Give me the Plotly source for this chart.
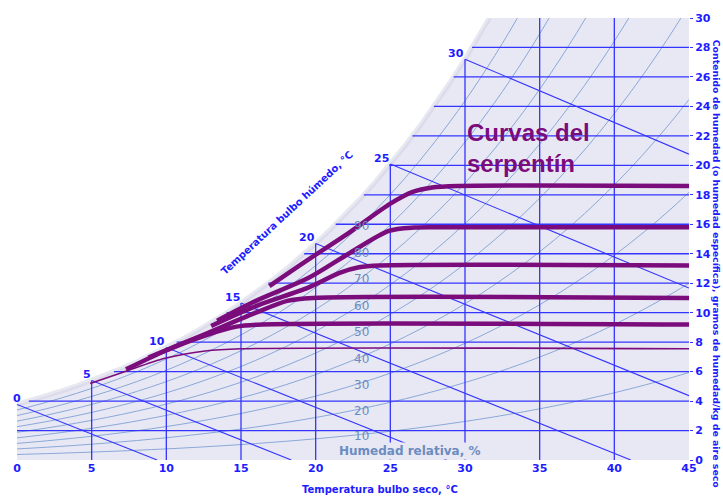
import numpy as np
import plotly.graph_objects as go

# Saturation vapour pressure of water (kPa), 0..45 °C in 1 °C steps
temp_table = list(range(0, 46))
psat_kpa = [0.6112, 0.6571, 0.7060, 0.7581, 0.8135, 0.8725, 0.9353, 1.0020, 1.0729, 1.1481,
            1.2280, 1.3127, 1.4026, 1.4979, 1.5987, 1.7055, 1.8185, 1.9380, 2.0643, 2.1979,
            2.3389, 2.4878, 2.6448, 2.8105, 2.9852, 3.1693, 3.3633, 3.5674, 3.7823, 4.0084,
            4.2462, 4.4961, 4.7586, 5.0343, 5.3237, 5.6275, 5.9461, 6.2801, 6.6303, 6.9972,
            7.3814, 7.7836, 8.2045, 8.6449, 9.1055, 9.5870]
P_ATM = 101.325  # kPa

rh_levels = [10, 20, 30, 40, 50, 60, 70, 80, 90]
wet_bulb_temps = [0, 5, 10, 15, 20, 25, 30]
dry_bulb_lines = [5, 10, 15, 20, 25, 30, 35, 40]
humidity_lines = [2, 4, 6, 8, 10, 12, 14, 16, 18, 20, 22, 24, 26, 28]
x_ticks = [0, 5, 10, 15, 20, 25, 30, 35, 40, 45]
y_ticks = [0, 2, 4, 6, 8, 10, 12, 14, 16, 18, 20, 22, 24, 26, 28, 30]

# Coil curves: dry bulb (°C) and moisture content (g/kg)
coil_1_t = [16.9, 19.5, 22.2, 25.0, 26.5, 27.8, 29.5, 45.0]
coil_1_w = [11.8, 13.6, 15.4, 17.4, 18.2, 18.5, 18.6, 18.6]
coil_2_t = [13.4, 16.0, 19.5, 22.2, 24.9, 26.6, 28.3, 45.0]
coil_2_w = [9.45, 10.8, 12.35, 14.0, 15.55, 15.78, 15.8, 15.8]
coil_3_t = [13.0, 16.0, 19.5, 21.6, 22.9, 24.3, 45.0]
coil_3_w = [9.1, 10.45, 11.7, 12.7, 13.08, 13.2, 13.2]
coil_4_t = [8.8, 12.6, 16.0, 18.1, 19.8, 45.0]
coil_4_w = [6.95, 8.55, 10.0, 10.8, 11.0, 11.0]
coil_5_t = [7.3, 9.9, 12.6, 14.7, 16.4, 45.0]
coil_5_w = [6.15, 7.4, 8.45, 9.05, 9.2, 9.2]
coil_6_t = [4.9, 7.1, 9.9, 12.6, 15.0, 45.0]
coil_6_w = [5.2, 5.95, 6.9, 7.4, 7.55, 7.55]

BLUE = "#3434ff"
LABEL_BLUE = "#1c1cff"
RH_BLUE = "#8aa8d8"
RH_TEXT = "#6a8cc0"
LAVENDER = "#e8e8f4"
PURPLE = "#7b0c7b"
W_MAX = 30

T = np.array(temp_table, dtype=float)
ps = np.array(psat_kpa)


def moisture(phi):
    """Humidity ratio in g/kg for relative humidity phi (0..1) along the table."""
    return 1000 * 0.622 * phi * ps / (P_ATM - phi * ps)


ws = moisture(1.0)

fig = go.Figure()

# Area under the saturation curve
t_top = float(np.interp(W_MAX, ws, T))
mask = ws < W_MAX
fill_t = list(T[mask]) + [t_top, 45, 45, 0]
fill_w = list(ws[mask]) + [W_MAX, W_MAX, 0, 0]
fig.add_trace(go.Scatter(x=fill_t, y=fill_w, mode="lines", fill="toself",
                         fillcolor=LAVENDER, line=dict(width=0), hoverinfo="skip"))
fig.add_trace(go.Scatter(x=list(T[mask]) + [t_top], y=list(ws[mask]) + [W_MAX], mode="lines",
                         line=dict(color="rgba(205,205,225,0.45)", width=5), hoverinfo="skip"))

# Relative humidity curves
for rh in rh_levels:
    fig.add_trace(go.Scatter(x=T, y=moisture(rh / 100), mode="lines", line_shape="spline",
                             line=dict(color=RH_BLUE, width=1), hoverinfo="skip"))

# Constant moisture lines from the saturation curve to the right edge
for w in humidity_lines:
    t_dew = float(np.interp(w, ws, T))
    fig.add_trace(go.Scatter(x=[t_dew, 45], y=[w, w], mode="lines",
                             line=dict(color=BLUE, width=1.3), hoverinfo="skip"))

# Dry bulb lines
for t in dry_bulb_lines:
    fig.add_trace(go.Scatter(x=[t, t], y=[0, min(ws[t], W_MAX)], mode="lines",
                             line=dict(color=BLUE, width=1.3), hoverinfo="skip"))

# Wet bulb lines
for twb in wet_bulb_temps:
    a = (2501 - 2.326 * twb) * ws[twb] / 1000

    def w_at(t):
        return 1000 * (a - 1.006 * (t - twb)) / (2501 + 1.86 * t - 4.186 * twb)

    t_end = 45.0 if w_at(45.0) > 0 else twb + a / 1.006
    fig.add_trace(go.Scatter(x=[twb, t_end], y=[ws[twb], max(w_at(t_end), 0)], mode="lines",
                             line=dict(color=BLUE, width=1.1), hoverinfo="skip"))

# Coil curves
coils = [(coil_1_t, coil_1_w, 4.5), (coil_2_t, coil_2_w, 4.5), (coil_3_t, coil_3_w, 4.5),
         (coil_4_t, coil_4_w, 4.5), (coil_5_t, coil_5_w, 4.5), (coil_6_t, coil_6_w, 1.6)]
for ct, cw, lw in coils:
    fig.add_trace(go.Scatter(x=ct, y=cw, mode="lines", line_shape="spline",
                             line=dict(color=PURPLE, width=lw, smoothing=0.8), hoverinfo="skip"))

annotations = []
bold_blue = dict(family="DejaVu Sans", size=11, color=LABEL_BLUE, weight="bold")

for twb in wet_bulb_temps:
    annotations.append(dict(x=twb, y=min(ws[twb], W_MAX), text=str(twb), showarrow=False,
                            xanchor="right", yanchor="middle", xshift=1 if twb else 6,
                            yshift=6, font=bold_blue))

rh_label_t = 23.1
for rh in rh_levels:
    annotations.append(dict(x=rh_label_t, y=float(np.interp(rh_label_t, T, moisture(rh / 100))),
                            text=str(rh), showarrow=False, xanchor="center", yanchor="middle",
                            yshift=-2,
                            font=dict(family="DejaVu Sans", size=12, color=RH_TEXT)))

annotations += [
    dict(x=26.3, y=0.6, text="Humedad relativa, %", showarrow=False, bgcolor=LAVENDER,
         font=dict(family="DejaVu Sans", size=12, color=RH_TEXT, weight="bold")),
    dict(x=30.0, y=21.2, text="Curvas del<br>serpentín", showarrow=False, xanchor="left",
         yanchor="middle", align="left",
         font=dict(family="Liberation Sans", size=24, color=PURPLE, weight="bold")),
    dict(x=18.1, y=16.8, text="Temperatura bulbo húmedo, °C", showarrow=False, textangle=-43,
         font=dict(family="DejaVu Sans", size=10, color=LABEL_BLUE, weight="bold")),
    dict(x=24.3, xref="x", y=-0.067, yref="paper", text="Temperatura bulbo seco, °C",
         showarrow=False, yanchor="middle",
         font=dict(family="DejaVu Sans", size=10, color=LABEL_BLUE, weight="bold")),
    dict(x=1.041, xref="paper", y=0.443, yref="paper", textangle=90, showarrow=False,
         xanchor="center", yanchor="middle",
         text="Contenido de humedad (o humedad específica), gramos de humedad/kg de aire seco",
         font=dict(family="DejaVu Sans", size=9.4, color=LABEL_BLUE, weight="bold")),
]

fig.update_layout(
    width=723, height=498,
    margin=dict(l=17, r=34, t=15, b=38),
    paper_bgcolor="white", plot_bgcolor="white",
    showlegend=False,
    annotations=annotations,
    xaxis=dict(range=[0, 45], tickvals=x_ticks, showgrid=False, zeroline=False,
               showline=False, ticks="", tickfont=bold_blue),
    yaxis=dict(range=[0, 30], side="right", tickvals=y_ticks, showgrid=False,
               zeroline=False, showline=False, ticks="outside", ticklen=3,
               tickcolor=BLUE, tickfont=bold_blue),
)

fig.write_html("out.html")
